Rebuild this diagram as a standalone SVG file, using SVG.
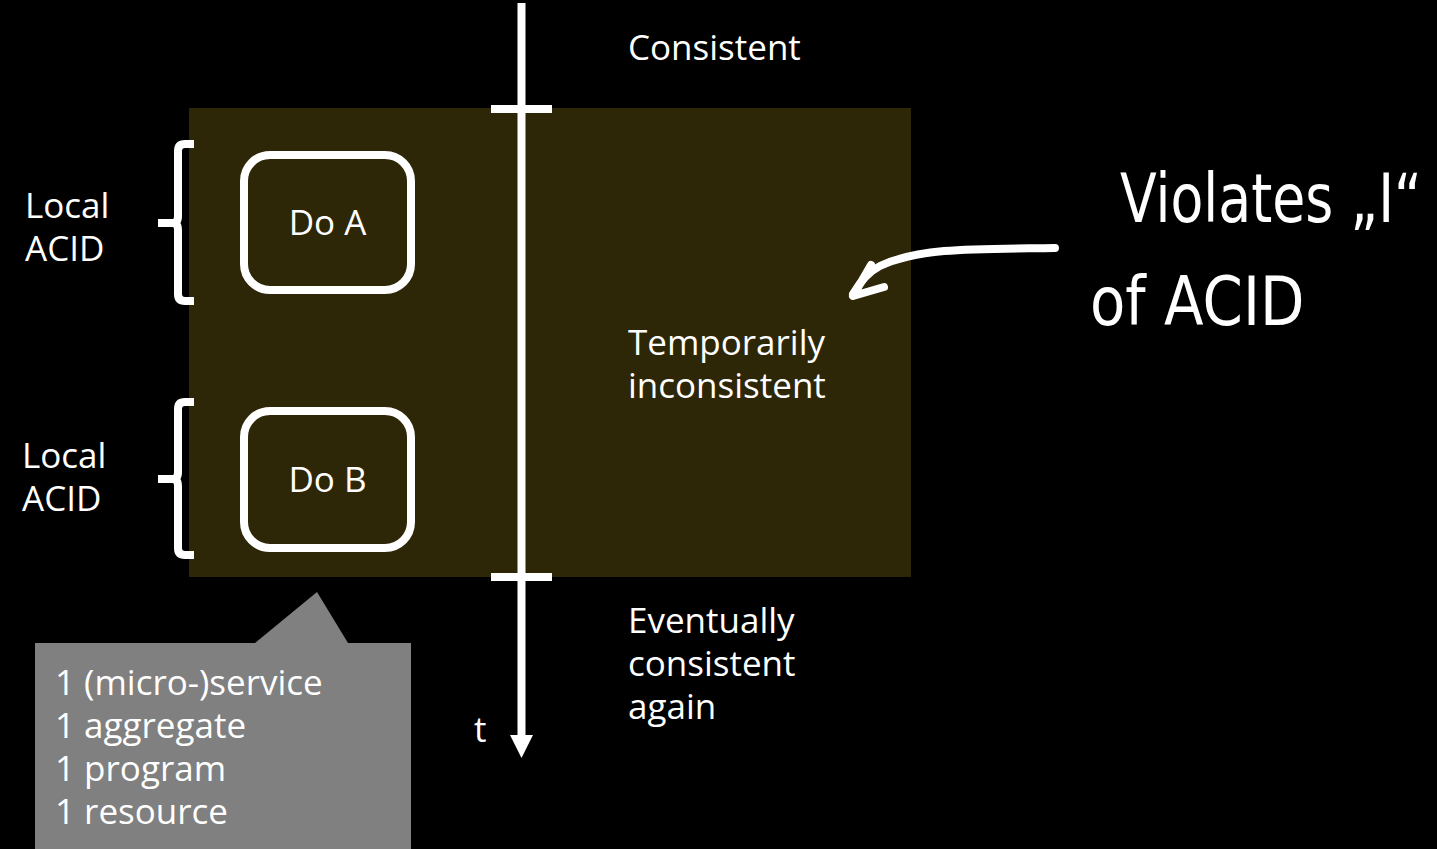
<svg xmlns="http://www.w3.org/2000/svg" width="1437" height="849" viewBox="0 0 1437 849">
  <style>
    .lbl { font-family: "Open Sans", "Liberation Sans", sans-serif; font-size: 35px; fill: #ffffff; }
    .note { font-family: "Open Sans", "Liberation Sans", sans-serif; font-size: 35px; fill: #ffffff; }
    .hand { font-family: "DejaVu Sans", "Liberation Sans", sans-serif; font-size: 68px; fill: #ffffff; }
    .box { fill: none; stroke: #ffffff; stroke-width: 8; }
    .wline { stroke: #ffffff; stroke-width: 8; fill: none; }
    .brace { stroke: #ffffff; stroke-width: 8; fill: none; stroke-linejoin: round; }
  </style>

  <rect x="0" y="0" width="1437" height="849" fill="#000000"/>

  <!-- inconsistent window -->
  <rect id="window" x="189" y="108" width="722" height="469" fill="#2d2708"/>

  <!-- time axis -->
  <g id="axis">
    <line class="wline" x1="521.5" y1="3" x2="521.5" y2="736"/>
    <polygon points="510,735 533,735 521.5,758" fill="#ffffff"/>
    <line class="wline" x1="491" y1="109" x2="552" y2="109"/>
    <line class="wline" x1="491" y1="577" x2="552" y2="577"/>
    <text class="lbl" x="474" y="742">t</text>
  </g>

  <g id="state-labels">
    <text class="lbl" x="628" y="60">Consistent</text>
    <text class="lbl" x="628" y="355">Temporarily</text>
    <text class="lbl" x="628" y="398">inconsistent</text>
    <text class="lbl" x="628" y="633">Eventually</text>
    <text class="lbl" x="628" y="676">consistent</text>
    <text class="lbl" x="628" y="719">again</text>
  </g>

  <!-- steps -->
  <g id="do-a">
    <rect class="box" x="244" y="155" width="167" height="135" rx="26"/>
    <text class="lbl" x="327.5" y="235" text-anchor="middle">Do A</text>
  </g>
  <g id="do-b">
    <rect class="box" x="244" y="411" width="167" height="137" rx="26"/>
    <text class="lbl" x="327.5" y="492" text-anchor="middle">Do B</text>
  </g>

  <!-- local transaction braces -->
  <g id="acid-a">
    <path class="brace" d="M194,144 H185 Q178,144 178,151 V216 Q178,223 172,223 H158 M172,223 Q178,223 178,230 V294 Q178,301 185,301 H194"/>
    <text class="lbl" x="25" y="218">Local</text>
    <text class="lbl" x="25" y="261">ACID</text>
  </g>
  <g id="acid-b">
    <path class="brace" d="M194,402 H185 Q178,402 178,409 V472 Q178,479 172,479 H158 M172,479 Q178,479 178,486 V548 Q178,555 185,555 H194"/>
    <text class="lbl" x="22" y="468">Local</text>
    <text class="lbl" x="22" y="511">ACID</text>
  </g>

  <!-- scope callout -->
  <g id="callout">
    <polygon points="35,643 255,643 317,592 348,643 411,643 411,849 35,849" fill="#808080"/>
    <text class="note" x="55" y="695">1 (micro-)service</text>
    <text class="note" x="55" y="738">1 aggregate</text>
    <text class="note" x="55" y="781">1 program</text>
    <text class="note" x="55" y="824">1 resource</text>
  </g>

  <!-- remark -->
  <g id="remark">
    <path class="wline" d="M1055,248 C980,249 920,247 880,266 C868,272 860,282 853,294" stroke-linecap="round"/>
    <path class="wline" d="M871,265 L853,296 L884,287" stroke-linecap="round" stroke-linejoin="round"/>
    <text class="hand" transform="translate(1120,222) scale(0.79,1)">Violates „I“</text>
    <text class="hand" transform="translate(1090,325) scale(0.85,1)">of ACID</text>
  </g>
</svg>
